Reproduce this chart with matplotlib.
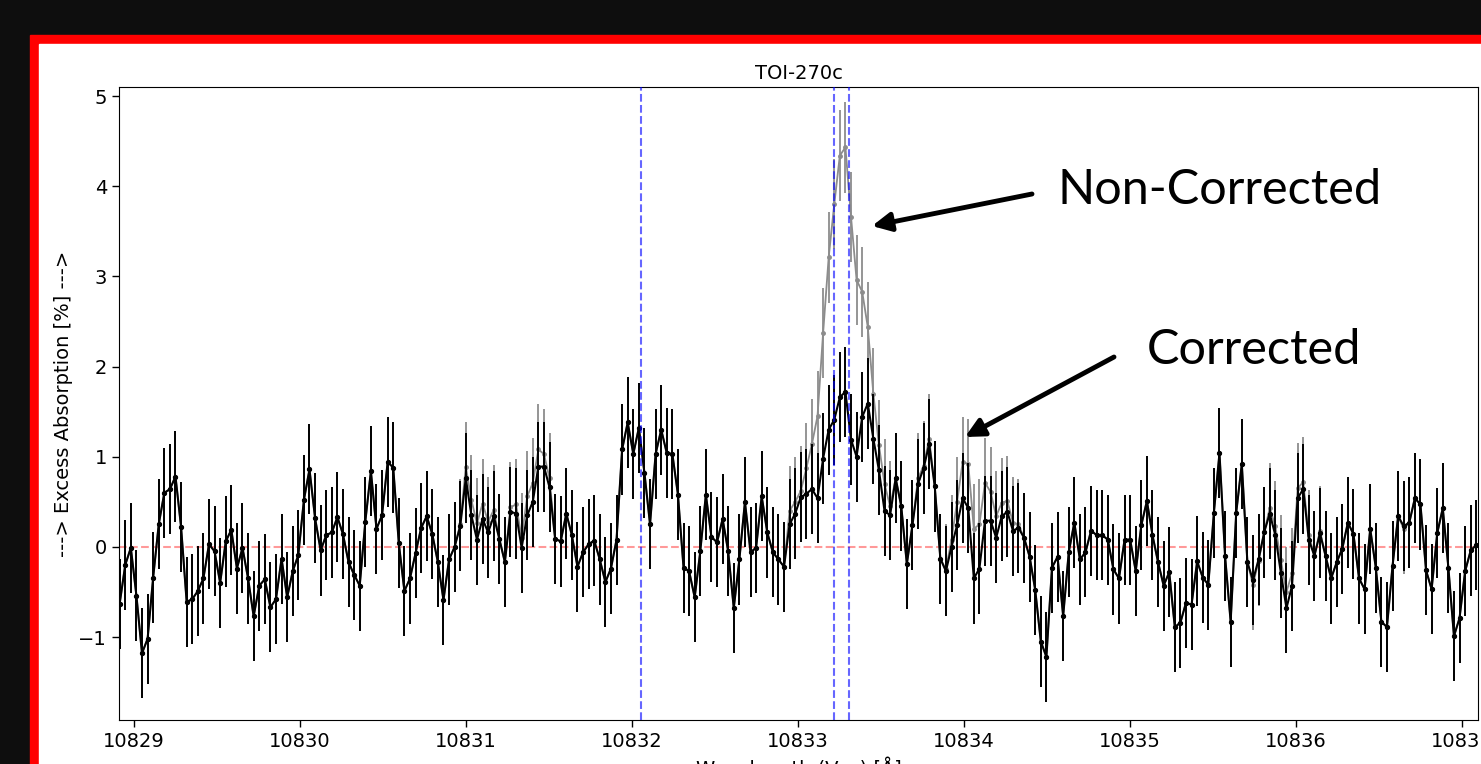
"""TOI-270c excess absorption around the He I 10833 triplet"""

import numpy as np
import matplotlib.pyplot as plt
from matplotlib.patches import Rectangle

# wavelength grid (first point and pixel step, in Angstrom)
wl_first = 10828.916
wl_step = 0.03362

# corrected excess absorption [%]
corrected = [
    -0.63, -0.20, -0.01, -0.54, -1.18, -1.02, -0.34, 0.25, 0.60, 0.64,
    0.78, 0.22, -0.61, -0.58, -0.49, -0.35, 0.03, -0.05, -0.40, 0.06,
    0.19, -0.24, -0.01, -0.35, -0.77, -0.43, -0.36, -0.67, -0.58, -0.13,
    -0.56, -0.27, -0.09, 0.52, 0.86, 0.32, -0.04, 0.13, 0.16, 0.33,
    0.14, -0.17, -0.31, -0.43, 0.28, 0.84, 0.20, 0.35, 0.94, 0.88,
    0.04, -0.49, -0.35, -0.07, 0.21, 0.34, 0.14, -0.17, -0.59, -0.14,
    0.00, 0.23, 0.76, 0.35, 0.08, 0.31, 0.16, 0.34, 0.09, -0.17,
    0.39, 0.37, -0.01, 0.35, 0.50, 0.89, 0.89, 0.66, 0.09, 0.06,
    0.37, 0.13, -0.22, -0.06, 0.03, 0.07, -0.14, -0.39, -0.24, 0.08,
    1.08, 1.38, 1.03, 1.32, 0.82, 0.25, 1.03, 1.30, 1.04, 1.03,
    0.58, -0.23, -0.27, -0.56, -0.05, 0.58, 0.11, 0.05, 0.31, -0.05,
    -0.68, -0.14, 0.50, -0.06, -0.01, 0.56, 0.16, -0.06, -0.14, -0.22,
    0.25, 0.37, 0.55, 0.59, 0.64, 0.54, 0.98, 1.30, 1.41, 1.66,
    1.72, 1.19, 1.00, 1.44, 1.59, 1.20, 0.85, 0.40, 0.35, 0.76,
    0.45, -0.19, 0.24, 0.70, 0.87, 1.14, 0.67, -0.13, -0.27, 0.00,
    0.24, 0.54, 0.43, -0.35, -0.24, 0.29, 0.29, 0.10, 0.34, 0.39,
    0.18, 0.21, 0.10, -0.11, -0.48, -1.05, -1.22, -0.23, -0.11, -0.77,
    -0.06, 0.27, -0.14, -0.06, 0.18, 0.13, 0.13, 0.08, -0.25, -0.35,
    0.08, 0.08, -0.27, 0.24, 0.51, 0.13, -0.17, -0.43, -0.28, -0.89,
    -0.84, -0.62, -0.64, -0.16, -0.34, -0.42, 0.38, 1.04, -0.10, -0.83,
    0.38, 0.92, -0.17, -0.37, -0.14, 0.16, 0.37, 0.13, -0.29, -0.68,
    -0.43, 0.54, 0.64, 0.08, -0.10, 0.15, -0.10, -0.35, -0.17, -0.02,
    0.27, 0.14, -0.35, -0.47, 0.20, -0.23, -0.83, -0.89, -0.21, 0.34,
    0.23, 0.27, 0.54, 0.47, -0.26, -0.47, 0.15, 0.43, -0.23, -0.99,
    -0.79, -0.27, -0.04, 0.02, -0.03,
]

# non-corrected excess absorption [%]
non_corrected = [
    -0.63, -0.20, -0.01, -0.54, -1.18, -1.02, -0.34, 0.25, 0.60, 0.64,
    0.78, 0.22, -0.61, -0.58, -0.49, -0.35, 0.03, -0.05, -0.40, 0.06,
    0.19, -0.24, -0.01, -0.35, -0.77, -0.43, -0.36, -0.67, -0.58, -0.13,
    -0.56, -0.27, -0.09, 0.52, 0.86, 0.32, -0.04, 0.13, 0.16, 0.33,
    0.14, -0.17, -0.31, -0.43, 0.28, 0.84, 0.20, 0.35, 0.94, 0.88,
    0.04, -0.49, -0.35, -0.07, 0.21, 0.34, 0.14, -0.17, -0.59, -0.14,
    0.00, 0.25, 0.89, 0.52, 0.26, 0.48, 0.28, 0.41, 0.09, -0.17,
    0.44, 0.47, 0.10, 0.56, 0.71, 1.08, 1.03, 0.76, 0.09, 0.06,
    0.37, 0.13, -0.22, -0.06, 0.03, 0.07, -0.14, -0.39, -0.24, 0.08,
    1.08, 1.38, 1.03, 1.32, 0.82, 0.25, 1.03, 1.30, 1.04, 1.03,
    0.58, -0.23, -0.27, -0.56, -0.05, 0.58, 0.11, 0.05, 0.31, -0.05,
    -0.68, -0.14, 0.50, -0.06, -0.01, 0.56, 0.16, -0.06, -0.14, -0.22,
    0.40, 0.50, 0.62, 0.87, 1.14, 1.45, 2.37, 3.21, 3.80, 4.34,
    4.43, 3.66, 2.96, 2.83, 2.44, 1.70, 1.13, 0.70, 0.45, 0.76,
    0.45, -0.19, 0.24, 0.76, 0.90, 1.20, 0.67, -0.13, -0.25, 0.08,
    0.50, 0.94, 0.92, 0.20, 0.25, 0.71, 0.61, 0.34, 0.49, 0.51,
    0.27, 0.25, 0.10, -0.11, -0.48, -1.05, -1.22, -0.23, -0.11, -0.77,
    -0.06, 0.27, -0.14, -0.06, 0.18, 0.13, 0.13, 0.08, -0.25, -0.35,
    0.08, 0.08, -0.27, 0.24, 0.51, 0.13, -0.17, -0.43, -0.28, -0.89,
    -0.84, -0.62, -0.64, -0.16, -0.34, -0.42, 0.38, 1.04, -0.10, -0.83,
    0.38, 0.92, -0.17, -0.42, -0.16, 0.16, 0.43, 0.23, -0.15, -0.50,
    -0.29, 0.65, 0.72, 0.13, -0.10, 0.18, -0.10, -0.35, -0.17, -0.02,
    0.27, 0.14, -0.35, -0.47, 0.20, -0.23, -0.83, -0.89, -0.21, 0.34,
    0.20, 0.27, 0.54, 0.47, -0.26, -0.47, 0.15, 0.43, -0.23, -0.99,
    -0.79, -0.27, -0.04, 0.02, -0.03,
]

err = 0.5  # error bar half-length [%]

# He I triplet line centres (vacuum)
he_lines = [10832.057, 10833.217, 10833.306]

xticks = [10829, 10830, 10831, 10832, 10833, 10834, 10835, 10836, 10837]
yticks = [-1, 0, 1, 2, 3, 4, 5]

W, H = 1481, 764
wl = wl_first + wl_step * np.arange(len(corrected))

fig = plt.figure(figsize=(W / 100, H / 100), dpi=100, facecolor='#0e0e0e')

# slide frame: red border with white panel
fig.patches.append(Rectangle((30 / W, -0.05), 1.1, (727 + 40) / H,
                             transform=fig.transFigure, color='#ff0000', zorder=-10))
fig.patches.append(Rectangle((39 / W, -0.05), 1.1, (718 + 40) / H,
                             transform=fig.transFigure, color='white', zorder=-9))

ax = fig.add_axes([119 / W, 1 - 720 / H, (1478 - 119) / W, (720 - 87) / H])
ax.set_zorder(1)

ax.errorbar(wl, non_corrected, yerr=err, fmt='o-', color='#8c8c8c', ms=2.5,
            lw=1.3, elinewidth=1.3, zorder=2)
ax.errorbar(wl, corrected, yerr=err, fmt='o-', color='black', ms=2.8,
            lw=1.5, elinewidth=1.4, zorder=3)

ax.axhline(0, color='red', alpha=0.4, ls='--', lw=1.5, zorder=1)
for line in he_lines:
    ax.axvline(line, color='blue', alpha=0.6, ls='--', lw=1.5, zorder=4)

ax.set_xlim(10828.912, 10837.096)
ax.set_ylim(-1.92, 5.10)
ax.set_xticks(xticks)
ax.set_yticks(yticks)
ax.tick_params(labelsize=14, length=5, width=1.0)
ax.set_title('TOI-270c', fontsize=14, pad=6)
ax.set_xlabel('Wavelength (Vac) [Å]', fontsize=14)
ax.set_ylabel('---> Excess Absorption [%] --->', fontsize=14)

# slide annotations (figure pixels)
ax.text(1058 / W, 1 - 190 / H, 'Non-Corrected', fontsize=35, family='Lato',
        va='center', ha='left', transform=fig.transFigure, zorder=6)
ax.text(1147 / W, 1 - 350 / H, 'Corrected', fontsize=35, family='Lato',
        va='center', ha='left', transform=fig.transFigure, zorder=6)
ax.annotate('', xy=(872, H - 226), xytext=(1032, H - 194), xycoords='figure pixels',
            textcoords='figure pixels', zorder=6,
            arrowprops=dict(arrowstyle='-|>', lw=3.5, color='black', mutation_scale=28,
                            shrinkA=0, shrinkB=0))
ax.annotate('', xy=(965, H - 437), xytext=(1114, H - 357), xycoords='figure pixels',
            textcoords='figure pixels', zorder=6,
            arrowprops=dict(arrowstyle='-|>', lw=3.5, color='black', mutation_scale=28,
                            shrinkA=0, shrinkB=0))

fig.savefig('out.png', dpi=100, facecolor=fig.get_facecolor())
